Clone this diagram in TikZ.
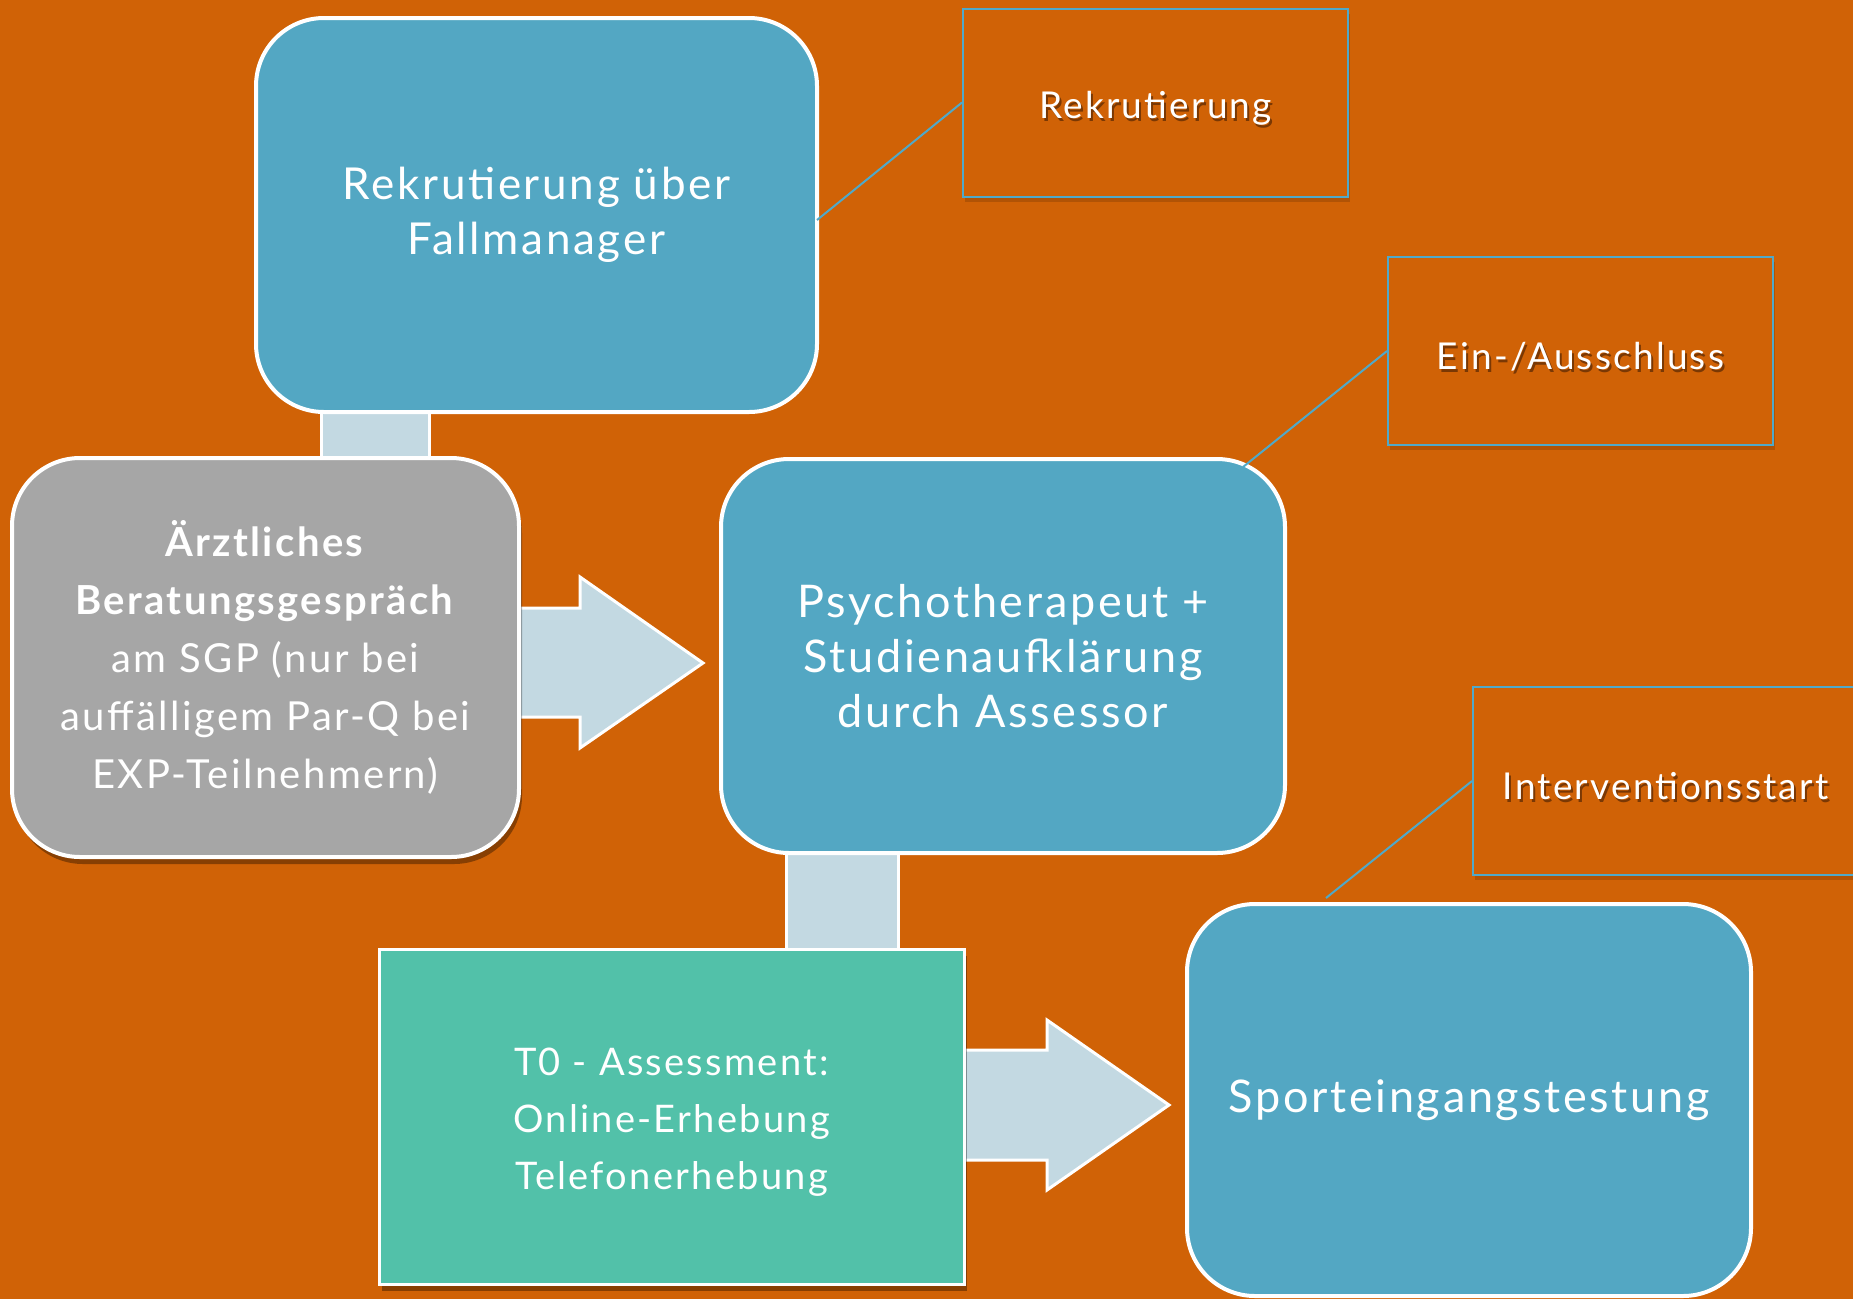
\documentclass[tikz,border=0pt]{standalone}
\usepackage{fontspec}
\setmainfont{Lato}[LetterSpace=6]
\usetikzlibrary{shadows}
\definecolor{bgorange}{HTML}{D06206}
\definecolor{boxblue}{HTML}{53A7C3}
\definecolor{boxgray}{HTML}{A6A6A6}
\definecolor{boxgreen}{HTML}{52C1A9}
\definecolor{linkblue}{HTML}{C3D9E2}
\definecolor{edgeblue}{HTML}{4FA9C9}
\definecolor{txtshadow}{HTML}{7A3804}
\newcommand\shadowtext[1]{\raisebox{-7pt}[\height][\depth]{\leavevmode\rlap{\kern2pt\raisebox{-3pt}{\color{txtshadow}#1}}#1}}
\newcommand\lowertext[2]{\raisebox{-#1}[\height][\depth]{#2}}
\begin{document}
\begin{tikzpicture}[x=1pt,y=-1pt,
  flowbox/.style={draw=white, line width=4pt, rounded corners=68pt, text=white, align=center, inner sep=0pt},
  bluebox/.style={flowbox, fill=boxblue},
  labelbox/.style={draw=edgeblue, line width=2pt, fill=bgorange, text=white, align=center,
     minimum width=385pt, minimum height=188pt, inner sep=0pt,
     drop shadow={shadow xshift=2pt, shadow yshift=-5pt, opacity=0.15, fill=black},
     font=\fontsize{37}{44}\selectfont},
  leader/.style={draw=edgeblue, line width=2pt},
  linkbar/.style={fill=linkblue, draw=white, line width=3pt},
  bigarrow/.style={fill=linkblue, draw=white, line width=3pt, line join=miter}
]
\useasboundingbox (0,0) rectangle (1853,1299);
\clip (0,0) rectangle (1853,1299);
\fill[bgorange] (0,0) rectangle (1853,1299);

% connecting bars and arrows (behind boxes)
\draw[linkbar] (321,395) rectangle (429,470);
\draw[linkbar] (786,840) rectangle (898,960);
\draw[bigarrow] (505,608) -- (580,608) -- (580,577) -- (703,663) -- (580,748) -- (580,717) -- (505,717) -- cycle;
\draw[bigarrow] (950,1050) -- (1047,1050) -- (1047,1020) -- (1169,1105) -- (1047,1190) -- (1047,1160) -- (950,1160) -- cycle;

% main boxes
\node[bluebox, minimum width=561pt, minimum height=394pt, font=\fontsize{44}{55}\selectfont]
  (b1) at (536.5,215) {Rekrutierung über\\Fallmanager};
\node[flowbox, fill=boxgray, minimum width=507pt, minimum height=399pt,
  drop shadow={shadow xshift=3pt, shadow yshift=-7pt, opacity=0.35, fill=black},
  font=\fontsize{40}{58}\selectfont]
  (b2) at (265.5,657.5) {\textbf{Ärztliches}\\\textbf{Beratungsgespräch}\\am SGP (nur bei\\auffälligem Par-Q bei\\EXP-Teilnehmern)};
\node[bluebox, minimum width=564pt, minimum height=394pt, font=\fontsize{45}{55}\selectfont]
  (b3) at (1003,656) {Psychotherapeut +\\Studienaufklärung\\durch Assessor};
\node[draw=white, line width=3pt, fill=boxgreen, text=white, align=center, inner sep=0pt,
  minimum width=585pt, minimum height=335pt,
  drop shadow={shadow xshift=3pt, shadow yshift=-7pt, opacity=0.35, fill=black},
  font=\fontsize{38}{57}\selectfont]
  (b4) at (671.5,1116.5) {\lowertext{6pt}{T0 - Assessment:}\\\lowertext{6pt}{Online-Erhebung}\\\lowertext{6pt}{Telefonerhebung}};
\node[bluebox, minimum width=564pt, minimum height=392pt, font=\fontsize{45}{55}\selectfont]
  (b5) at (1469,1100) {Sporteingangstestung};

% label boxes
\node[labelbox] (lab1) at (1155.5,102.5) {\shadowtext{Rekrutierung}};
\node[labelbox] (lab2) at (1580.5,351) {\shadowtext{Ein-/Ausschluss}};
\node[labelbox] (lab3) at (1665.5,781) {\shadowtext{Interventionsstart}};

% leader lines
\coordinate (c1) at (817,220);
\coordinate (c2) at (1243,467);
\coordinate (c3) at (1326,898);
\draw[leader] (c1) -- (lab1.west);
\draw[leader] (c2) -- (lab2.west);
\draw[leader] (c3) -- (lab3.west);
\end{tikzpicture}
\end{document}
